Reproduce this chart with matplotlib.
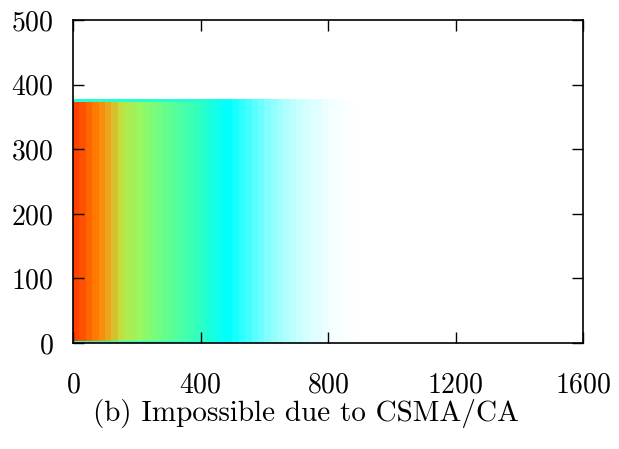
import numpy as np
import matplotlib
matplotlib.use("Agg")
import matplotlib.pyplot as plt
from matplotlib.colors import LinearSegmentedColormap

plt.rcParams['font.family'] = ['cmr10', 'DejaVu Serif']
plt.rcParams['axes.formatter.use_mathtext'] = True

# band edges along x (20 units wide) and the height of the filled block
x_edges = np.arange(0, 920, 20)
y_top = 374
strip_top = 378

# colour level of each 20-wide band (1 = red, 0 = white)
band_values = [1.00, 0.97, 0.94, 0.91, 0.87, 0.83, 0.79, 0.75, 0.72, 0.70,
               0.68, 0.655, 0.63, 0.61, 0.59, 0.57, 0.55, 0.53, 0.51, 0.49,
               0.46, 0.43, 0.40, 0.37, 0.35,
               0.32, 0.29, 0.26, 0.23, 0.20, 0.175, 0.15, 0.13, 0.11, 0.09,
               0.075, 0.06, 0.05, 0.04, 0.03, 0.02, 0.015, 0.01, 0.005, 0.0]

x_ticks = [0, 400, 800, 1200, 1600]
y_ticks = [0, 100, 200, 300, 400, 500]
caption = "(b) Impossible due to CSMA/CA"

palette = LinearSegmentedColormap.from_list("pal", [
    (0.00, "#ffffff"),
    (0.35, "#00ffff"),
    (0.45, "#20ffd0"),
    (0.55, "#50ffa0"),
    (0.68, "#98f860"),
    (0.75, "#c0e040"),
    (0.82, "#e8aa20"),
    (0.90, "#ff8000"),
    (1.00, "#ff4000"),
])

fig = plt.figure(figsize=(6.19, 4.49), dpi=100)
ax = fig.add_axes([0.118, 0.236, 0.824, 0.719])

vals = np.array(band_values)
ax.pcolormesh(x_edges, [0, y_top], vals[np.newaxis, :], cmap=palette,
              vmin=0, vmax=1, shading='flat')
# thin lighter strips along the top and bottom of the block
edge_vals = np.minimum(vals, 0.45)
ax.pcolormesh(x_edges, [y_top, strip_top], edge_vals[np.newaxis, :], cmap=palette,
              vmin=0, vmax=1, shading='flat')
ax.pcolormesh(x_edges, [0, 3], edge_vals[np.newaxis, :], cmap=palette,
              vmin=0, vmax=1, shading='flat')

ax.set_xlim(0, 1600)
ax.set_ylim(0, 500)
ax.set_xticks(x_ticks)
ax.set_yticks(y_ticks)
ax.tick_params(direction='in', length=8, width=1, top=True, right=True,
               labelsize=20)
ax.tick_params(axis='x', pad=21)
ax.tick_params(axis='y', pad=14)
for s in ax.spines.values():
    s.set_linewidth(1.2)

fig.text(0.495, 0.078, caption, ha='center', va='center', fontsize=21)

fig.savefig("out.png", dpi=100)
